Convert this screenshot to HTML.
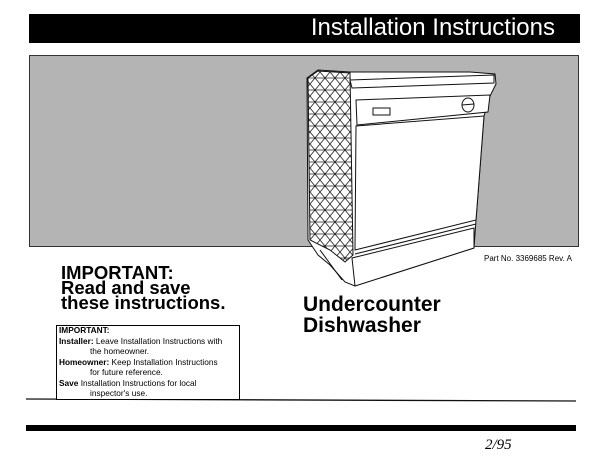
<!DOCTYPE html>
<html><head><meta charset="utf-8"><style>
body{margin:0;width:612px;height:467px;background:#fff;position:relative;overflow:hidden;font-family:"Liberation Sans",sans-serif;color:#000}
.a{position:absolute;white-space:nowrap}
</style></head><body>
<svg class="a" style="left:0;top:0" width="612" height="467">
<defs>
<pattern id="q" width="10" height="12" patternUnits="userSpaceOnUse">
<rect width="10" height="12" fill="#fff"/>
<path d="M0 0L10 12M10 0L0 12M0 6H10" stroke="#222" stroke-width="0.8"/>
</pattern>
</defs>
<rect x="29" y="14" width="551" height="29" fill="#000"/>
<rect x="29.5" y="55.5" width="549" height="191" fill="#b4b4b4" stroke="#333"/>
<polygon points="307,78 318,70 350,72 470,72 495,74 496,84 490,96 484,116 476,220 474,248 355,286 345,282 330,265 318,255 308,240" fill="#fff" stroke="#111" stroke-width="1"/>
<polygon points="308,78 318,71 350,73 353,255 345,262 330,250 310,240" fill="url(#q)" stroke="#111"/>
<polygon points="350,80 494,75 494,83 352,88" fill="#fff" stroke="#111"/>
<polygon points="356,100 490,95 488,112 357,125" fill="#fff" stroke="#111"/>
<rect x="373" y="108" width="17" height="7" fill="#fff" stroke="#111"/>
<ellipse cx="468" cy="105" rx="6" ry="7" fill="#fff" stroke="#111"/>
<line x1="462" y1="105" x2="474" y2="104" stroke="#111"/>
<polygon points="356,126 484,116 476,220 355,250" fill="#fff" stroke="#111"/>
<line x1="355" y1="254" x2="476" y2="224" stroke="#111"/>
<polygon points="352,258 474,228 474,248 355,286" fill="#fff" stroke="#111"/>
<line x1="320" y1="250" x2="342" y2="280" stroke="#111"/>
<line x1="26" y1="399" x2="576" y2="401" stroke="#111" stroke-width="1.3"/>
<rect x="26" y="425" width="550" height="6" fill="#000"/>
</svg>
<div class="a" style="right:57px;top:13px;color:#fff;font-size:24px;line-height:30px">Installation Instructions</div>
<div class="a" style="left:484px;top:254px;font-size:8px">Part No. 3369685 Rev. A</div>
<div class="a" style="left:61px;top:265px;font-size:18.5px;font-weight:bold;line-height:15px">IMPORTANT:<br>Read and save<br>these instructions.</div>
<div class="a" style="left:303px;top:294px;font-size:21px;font-weight:bold;line-height:21px">Undercounter<br>Dishwasher</div>
<div class="a" style="left:56px;top:325px;width:182px;height:73px;border:1px solid #000;background:#fff"></div>
<div class="a" style="left:59px;top:325px;font-size:8.3px;line-height:10.5px"><b>IMPORTANT:</b><br><b>Installer:</b> Leave Installation Instructions with<br><span style="padding-left:31px">the homeowner.</span><br><b>Homeowner:</b> Keep Installation Instructions<br><span style="padding-left:31px">for future reference.</span><br><b>Save</b> Installation Instructions for local<br><span style="padding-left:31px">inspector's use.</span></div>
<div class="a" style="left:485px;top:437px;font-size:15px;font-style:italic;font-family:'Liberation Serif',serif">2/95</div>
</body></html>
